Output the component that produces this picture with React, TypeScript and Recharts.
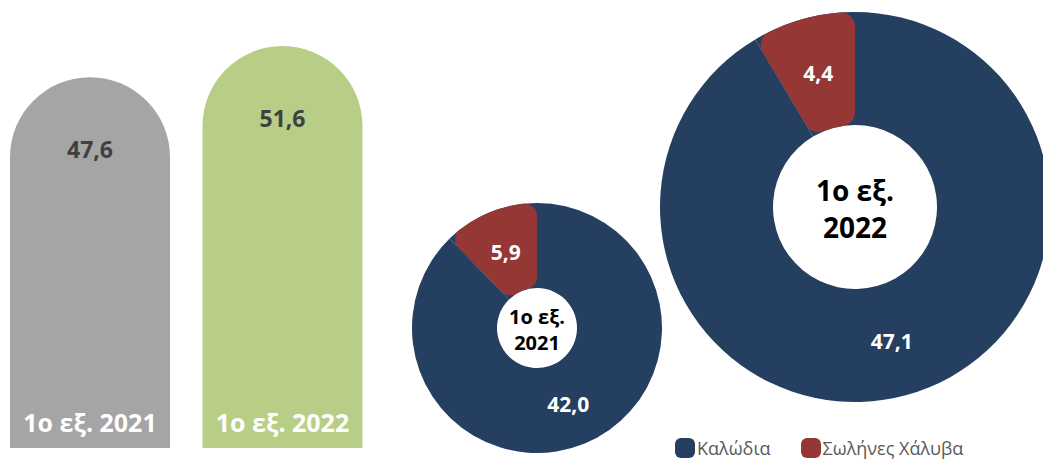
import { BarChart, Bar, XAxis, YAxis, Cell, LabelList, PieChart, Pie, Legend } from "recharts";

const periods = ["1ο εξ. 2021", "1ο εξ. 2022"];
const totals = [47.6, 51.6];
const barColors = ["#A5A5A5", "#B8CE87"];

const products = ["Καλώδια", "Σωλήνες Χάλυβα"];
const values2021 = [42.0, 5.9];
const values2022 = [47.1, 4.4];
const productColors = ["#253F60", "#953735"];

const FONT = "'Open Sans', 'Noto Sans', sans-serif";
const fmt = (v: number) => v.toFixed(1).replace(".", ",");

const barData = periods.map((p, i) => ({ name: p, value: totals[i] }));
const pie2021 = products.map((p, i) => ({ name: p, value: values2021[i] }));
const pie2022 = products.map((p, i) => ({ name: p, value: values2022[i] }));

const small = { cx: 537, cy: 328, inner: 40, outer: 125 };
const big = { cx: 855, cy: 207, inner: 82, outer: 195 };

const RAD = Math.PI / 180;

const sliceLabel = (size: number) => (props: any) => {
  const { cx, cy, midAngle, innerRadius, outerRadius, value } = props;
  const r = (innerRadius + outerRadius) / 2;
  const x = cx + r * Math.cos(-midAngle * RAD);
  const y = cy + r * Math.sin(-midAngle * RAD);
  return (
    <text x={x} y={y} fill="#fff" fontSize={size} fontWeight={700} fontFamily={FONT}
      textAnchor="middle" dominantBaseline="central">
      {fmt(value)}
    </text>
  );
};

const ValueLabel = (props: any) => {
  const { x, y, width, value } = props;
  return (
    <text x={x + width / 2} y={y + 72} fill="#404040" fontSize={23} fontWeight={700}
      fontFamily={FONT} textAnchor="middle" dominantBaseline="central">
      {fmt(value)}
    </text>
  );
};

const NameLabel = (props: any) => {
  const { x, y, width, height, value } = props;
  return (
    <text x={x + width / 2} y={y + height - 26} fill="#fff" fontSize={25} fontWeight={700}
      fontFamily={FONT} textAnchor="middle" dominantBaseline="central">
      {value}
    </text>
  );
};

const LegendContent = () => (
  <div style={{ display: "flex", fontFamily: FONT, fontSize: 18, color: "#595959" }}>
    {products.map((p, i) => (
      <div key={p} style={{ display: "flex", alignItems: "center", marginRight: 30 }}>
        <span style={{ width: 20, height: 20, borderRadius: 6, background: productColors[i], marginRight: 2, display: "inline-block" }} />
        {p}
      </div>
    ))}
  </div>
);

const CenterText = ({ c, size, gap, year }: { c: { cx: number; cy: number }; size: number; gap: number; year: string }) => (
  <g fill="#000" fontSize={size} fontWeight={700} fontFamily={FONT}>
    <text x={c.cx} y={c.cy - gap / 2 + 1} textAnchor="middle" dominantBaseline="central">1ο εξ.</text>
    <text x={c.cx} y={c.cy + gap / 2 + 1} textAnchor="middle" dominantBaseline="central">{year}</text>
  </g>
);

// blue ring underneath, rounded red slice on top
const Donut = (data: { name: string; value: number }[], c: typeof small, corner: number, labelSize: number) => [
  <Pie key={c.cx + "a"} data={data} dataKey="value" nameKey="name" cx={c.cx} cy={c.cy}
    innerRadius={c.inner} outerRadius={c.outer} startAngle={90} endAngle={-270}
    stroke="none" isAnimationActive={false}>
    {data.map((d) => (
      <Cell key={d.name} fill={productColors[0]} />
    ))}
  </Pie>,
  <Pie key={c.cx + "b"} data={data} dataKey="value" nameKey="name" cx={c.cx} cy={c.cy}
    innerRadius={c.inner} outerRadius={c.outer} startAngle={90} endAngle={-270}
    cornerRadius={corner} stroke="none" label={sliceLabel(labelSize)} labelLine={false} isAnimationActive={false}>
    {data.map((d, i) => (
      <Cell key={d.name} fill={i === 0 ? "transparent" : productColors[i]} />
    ))}
  </Pie>,
];

export default function App() {
  return (
    <div style={{ position: "absolute", left: 0, top: 0, width: 1043, height: 459, background: "#fff", overflow: "hidden" }}>
      <div style={{ position: "absolute", left: -6, top: 0 }}>
        <BarChart width={385} height={459} data={barData} margin={{ top: 4, right: 0, bottom: 11, left: 0 }}
          barSize={160} barCategoryGap={0}>
          <XAxis dataKey="name" hide />
          <YAxis domain={[0, 57]} hide />
          <Bar dataKey="value" radius={[80, 80, 0, 0]} isAnimationActive={false}>
            {barData.map((d, i) => (
              <Cell key={d.name} fill={barColors[i]} />
            ))}
            <LabelList dataKey="value" content={ValueLabel} />
            <LabelList dataKey="name" content={NameLabel} />
          </Bar>
        </BarChart>
      </div>
      <div style={{ position: "absolute", left: 0, top: 0 }}>
        <PieChart width={1043} height={459} margin={{ top: 0, right: 0, bottom: 0, left: 0 }}>
          {Donut(pie2021, small, 12, 21)}
          {Donut(pie2022, big, 14, 21)}
          <CenterText c={small} size={20} gap={26} year="2021" />
          <CenterText c={big} size={28} gap={37} year="2022" />
          <Legend content={LegendContent} wrapperStyle={{ position: "absolute", left: 675, top: 436, width: 368 }} />
        </PieChart>
      </div>
    </div>
  );
}
